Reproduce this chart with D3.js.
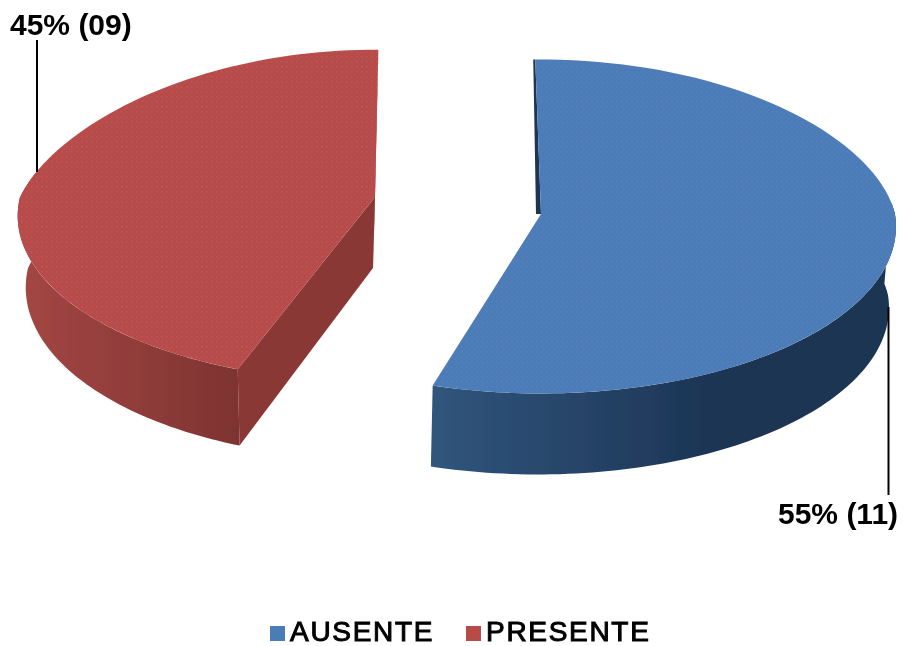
<!DOCTYPE html>
<html>
<head>
<meta charset="utf-8">
<script src="https://d3js.org/d3.v7.min.js"></script>
<style>
body { margin: 0; background: #fff; }
text { font-family: "Liberation Sans", Arial, sans-serif; fill: #000; }
</style>
</head>
<body>
<svg id="chart" width="903" height="646"></svg>
<script>
// data
var categories = ["AUSENTE", "PRESENTE"];
var values = [11, 9];
var labels = ["55% (11)", "45% (09)"];

// colors
var topColors = ["#4a7db7", "#b64b48"];
var speckColors = ["#7a78bb", "#c9606a"];
var wallStops = [["#31557d", "#1b3453"], ["#a34643", "#7d3331"]];
var innerColors = ["#1c3553", "#8a3836"];

// the two slices are pulled apart, each has its own perspective frame
// upper = top face, lower = bottom face of the extruded slice
// turn = small correction of the start / end angle, far = flattening of the back half
var frames = [
  { turn: [-1, -1.5], visible: [85, null], far: 1.1,
    upper: { cx: 541, cy: 214, rx: 354, ry: 166, p: 0.075 },
    lower: { cx: 538, cy: 295, rx: 350, ry: 166, p: 0.075 } },
  { turn: [2.2, 0.6], visible: [null, 282], far: 1.2,
    upper: { cx: 375, cy: 197, rx: 355, ry: 164, p: 0.114 },
    lower: { cx: 373, cy: 268, rx: 345, ry: 169, p: 0.114 } }
];

var svg = d3.select("#chart");
var defs = svg.append("defs");

var pie = d3.pie().sort(null);
var slices = pie(values);

// polar -> screen (angle in radians, clockwise from the top)
function project(f, angle, r, far) {
  var c = Math.cos(angle);
  var w = 1 + f.p * c * r;
  var dy = c > 0 ? Math.pow(c, far) : c;
  return [f.cx + f.rx * Math.sin(angle) * r / w, f.cy - f.ry * dy * r / w];
}
function arcPoints(f, a0, a1, far) {
  var n = 90, pts = [];
  for (var i = 0; i <= n; i++) {
    pts.push(project(f, a0 + (a1 - a0) * i / n, 1, far));
  }
  return pts;
}
var line = d3.line();
var rad = Math.PI / 180;

// light speckle on the top faces
speckColors.forEach(function(c, i) {
  var pat = defs.append("pattern")
    .attr("id", "speck" + i)
    .attr("width", 5).attr("height", 5)
    .attr("patternUnits", "userSpaceOnUse");
  pat.append("rect").attr("width", 5).attr("height", 5).attr("fill", topColors[i]);
  pat.append("rect").attr("x", 1).attr("y", 1).attr("width", 1.5).attr("height", 1.5)
    .attr("fill", c).attr("opacity", 0.55);
  pat.append("rect").attr("x", 3.5).attr("y", 3.5).attr("width", 1.2).attr("height", 1.2)
    .attr("fill", c).attr("opacity", 0.4);
});

var gradX = [[431, 720], [25, 240]];
wallStops.forEach(function(stops, i) {
  var g = defs.append("linearGradient")
    .attr("id", "wall" + i)
    .attr("gradientUnits", "userSpaceOnUse")
    .attr("x1", gradX[i][0]).attr("x2", gradX[i][1])
    .attr("y1", 0).attr("y2", 0);
  g.append("stop").attr("offset", 0).attr("stop-color", stops[0]);
  g.append("stop").attr("offset", 1).attr("stop-color", stops[1]);
});

var soft = defs.append("filter").attr("id", "soft");
soft.append("feGaussianBlur").attr("stdDeviation", 0.45);

var pieG = svg.append("g").attr("filter", "url(#soft)");

slices.forEach(function(s, i) {
  var f = frames[i];
  var a0 = s.startAngle + f.turn[0] * rad;
  var a1 = s.endAngle + f.turn[1] * rad;

  // straight cut walls
  if (i === 0) {
    // only a thin sliver of the blue wall shows left of the cut
    var shiftA = Object.assign({}, f.upper, { cx: f.upper.cx - 5 });
    var shiftB = Object.assign({}, f.upper, { cx: f.upper.cx - 2 });
    pieG.append("path")
      .attr("d", line([project(f.upper, a0, 0, f.far), project(f.upper, a0, 1, f.far),
                       project(shiftB, a0, 1, f.far), project(shiftA, a0, 0, f.far)]) + "Z")
      .attr("fill", innerColors[i]);
  } else {
    [a0, a1].forEach(function(a) {
      pieG.append("path")
        .attr("d", line([project(f.upper, a, 0, f.far), project(f.upper, a, 1, f.far),
                         project(f.lower, a, 1, f.far), project(f.lower, a, 0, f.far)]) + "Z")
        .attr("fill", innerColors[i]);
    });
  }

  // curved outer wall, visible part only
  var v0 = f.visible[0] === null ? a0 : f.visible[0] * rad;
  var v1 = f.visible[1] === null ? a1 : f.visible[1] * rad;
  var wall = arcPoints(f.upper, v0, v1, f.far).concat(arcPoints(f.lower, v1, v0, f.far));
  pieG.append("path")
    .attr("d", line(wall) + "Z")
    .attr("fill", "url(#wall" + i + ")");

  // top face
  var face = [project(f.upper, a0, 0, f.far)].concat(arcPoints(f.upper, a0, a1, f.far));
  pieG.append("path")
    .attr("d", line(face) + "Z")
    .attr("fill", "url(#speck" + i + ")");
});

// leader lines
var leaders = [[888.5, 307, 888.5, 495], [37, 40, 37, 172]];
leaders.forEach(function(l) {
  svg.append("line")
    .attr("x1", l[0]).attr("y1", l[1])
    .attr("x2", l[2]).attr("y2", l[3])
    .attr("stroke", "#000").attr("stroke-width", 2);
});

// data labels
var labelPos = [[778, 524], [10, 35]];
labels.forEach(function(t, i) {
  svg.append("text")
    .attr("x", labelPos[i][0]).attr("y", labelPos[i][1])
    .attr("font-size", 30).attr("font-weight", "bold")
    .attr("filter", "url(#soft)")
    .text(t);
});

// legend
var legendX = [270, 466];
categories.forEach(function(c, i) {
  svg.append("rect")
    .attr("x", legendX[i]).attr("y", 626)
    .attr("width", 15).attr("height", 15)
    .attr("fill", topColors[i]);
  svg.append("text")
    .attr("x", legendX[i] + 20).attr("y", 640.5)
    .attr("font-size", 28)
    .attr("letter-spacing", 1.7)
    .attr("stroke", "#000").attr("stroke-width", 1)
    .attr("filter", "url(#soft)")
    .text(c);
});
</script>
</body>
</html>
